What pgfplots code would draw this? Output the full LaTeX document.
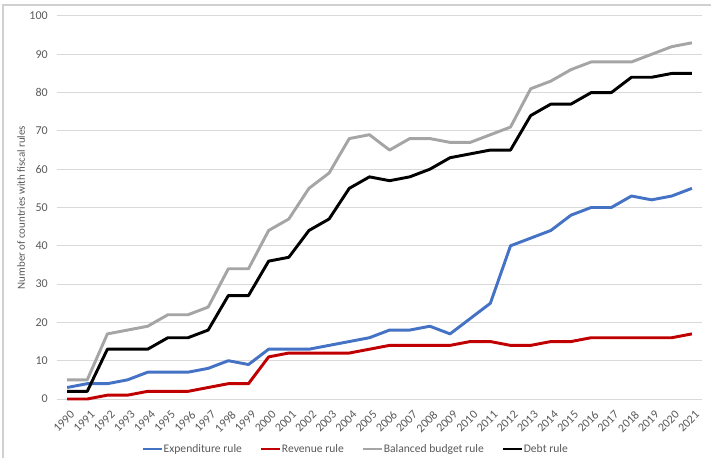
\documentclass[border=0pt]{standalone}
\usepackage{fontspec}
\setmainfont{Carlito}
\usepackage{pgfplots}
\usepackage{pgfplotstable}
\pgfplotsset{compat=1.18}
\definecolor{cblue}{HTML}{4472C4}
\definecolor{cred}{HTML}{C00000}
\definecolor{cgray}{HTML}{A5A5A5}
\definecolor{gridc}{HTML}{D9D9D9}
\definecolor{framec}{HTML}{D0D0D0}
\definecolor{tickc}{HTML}{595959}
\pgfplotstableread{
year exp rev bal debt
1990 3 0 5 2
1991 4 0 5 2
1992 4 1 17 13
1993 5 1 18 13
1994 7 2 19 13
1995 7 2 22 16
1996 7 2 22 16
1997 8 3 24 18
1998 10 4 34 27
1999 9 4 34 27
2000 13 11 44 36
2001 13 12 47 37
2002 13 12 55 44
2003 14 12 59 47
2004 15 12 68 55
2005 16 13 69 58
2006 18 14 65 57
2007 18 14 68 58
2008 19 14 68 60
2009 17 14 67 63
2010 21 15 67 64
2011 25 15 69 65
2012 40 14 71 65
2013 42 14 81 74
2014 44 15 83 77
2015 48 15 86 77
2016 50 16 88 80
2017 50 16 88 80
2018 53 16 88 84
2019 52 16 90 84
2020 53 16 92 85
2021 55 17 93 85
}\datatable
\begin{document}
\begin{tikzpicture}
\useasboundingbox (-42.75pt,-44.25pt) rectangle (490.5pt,299.25pt);
\draw[draw=framec, line width=1.2pt] (-40.5pt,-44.25pt) -- (-40.5pt,295.5pt) -- (490.5pt,295.5pt);
\begin{axis}[
  at={(0pt,0pt)}, anchor=south west,
  width=483.75pt, height=287.25pt, scale only axis,
  xmin=1989.5, xmax=2021.5, ymin=0, ymax=100,
  xtick={1990,...,2021}, ytick={0,10,...,100},
  scaled x ticks=false,
  /pgf/number format/1000 sep={},
  /pgf/number format/assume math mode=true,
  ymajorgrids, major grid style={line width=0.75pt, draw=gridc},
  axis line style={draw=none},
  major tick length=0pt,
  clip=false,
  x tick label style={xshift=2pt, yshift=-8pt, rotate=45, anchor=north east, inner sep=0pt, font=\fontsize{9}{10}\selectfont, text=tickc},
  y tick label style={inner sep=0pt, xshift=-6.75pt, font=\fontsize{9}{10}\selectfont, text=tickc},
  ylabel={Number of countries with fiscal rules},
  ylabel style={at={(axis description cs:-0.0558,0.5)}, anchor=center, font=\fontsize{8.2}{10}\selectfont, text=tickc},
  legend columns=4,
  legend style={draw=none, fill=none, at={(axis description cs:0.462,-0.1305)}, anchor=center,
    font=\fontsize{8.7}{10}\selectfont, text=tickc, inner sep=0pt,
    nodes={inner sep=0.4pt},
    /tikz/every even column/.append style={column sep=13pt}},
  legend image code/.code={\draw[#1, line width=2.2pt] (0pt,0pt) -- (14pt,0pt);},
  every axis plot/.append style={line width=2.2pt, line join=round, mark=none},
]
\addplot[cblue] table[x=year, y=exp] {\datatable};
\addlegendentry{Expenditure rule}
\addplot[cred] table[x=year, y=rev] {\datatable};
\addlegendentry{Revenue rule}
\addplot[cgray] table[x=year, y=bal] {\datatable};
\addlegendentry{Balanced budget rule}
\addplot[black] table[x=year, y=debt] {\datatable};
\addlegendentry{Debt rule}
\end{axis}
\end{tikzpicture}
\end{document}
